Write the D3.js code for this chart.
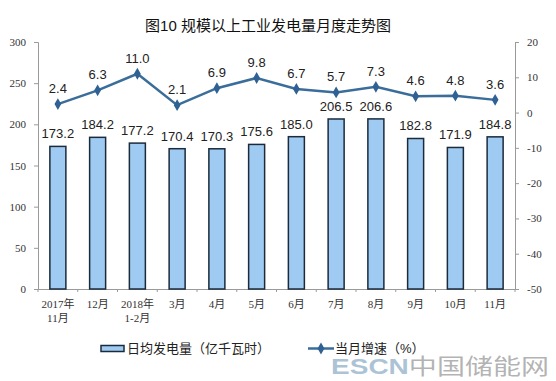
<!DOCTYPE html>
<html><head><meta charset="utf-8">
<script src="https://cdn.jsdelivr.net/npm/d3@7"></script>
<style>
body{margin:0;background:#fff;}
svg{display:block;}
</style></head>
<body>
<svg id="c" width="556" height="381"></svg>
<script>
const categories = [["2017年","11月"],["12月"],["2018年","1-2月"],["3月"],["4月"],["5月"],["6月"],["7月"],["8月"],["9月"],["10月"],["11月"]];
const dailyOutput = [173.2,184.2,177.2,170.4,170.3,175.6,185.0,206.5,206.6,182.8,171.9,184.8];
const growthRate = [2.4,6.3,11.0,2.1,6.9,9.8,6.7,5.7,7.3,4.6,4.8,3.6];
const leftTicks = [0,50,100,150,200,250,300];
const rightTicks = [-50,-40,-30,-20,-10,0,10,20];
const title = "图10 规模以上工业发电量月度走势图";
const legendBar = "日均发电量（亿千瓦时）";
const legendLine = "当月增速（%）";

const svg = d3.select("#c");
const L = 38, R = 515, T = 42, B = 289;
const keys = categories.map((d,i)=>i);
const x = d3.scaleBand().domain(keys).range([L,R]).paddingInner(0).paddingOuter(0);
const yL = d3.scaleLinear().domain([0,300]).range([B,T]);
const yR = d3.scaleLinear().domain([-50,20]).range([B,T]);
const serif = "'Liberation Serif','Noto Sans CJK SC',serif";
const sans = "Arial,'Liberation Sans','Noto Sans CJK SC',sans-serif";

svg.append("text").attr("x",268).attr("y",31).attr("text-anchor","middle")
  .attr("font-family",sans).attr("font-size",15).attr("fill","#111").text(title);

// left axis
const gL = svg.append("g").attr("transform",`translate(${L},0)`)
  .call(d3.axisLeft(yL).tickValues(leftTicks).tickSize(4).tickPadding(8).tickFormat(d=>String(d)));
gL.select(".domain").attr("stroke","#9a9a9a");
gL.selectAll(".tick line").attr("stroke","#9a9a9a");
gL.selectAll("text").attr("font-family",serif).attr("font-size",11).attr("fill","#333");

// right axis
const gR = svg.append("g").attr("transform",`translate(${R},0)`)
  .call(d3.axisRight(yR).tickValues(rightTicks).tickSize(4).tickPadding(8).tickFormat(d=>String(d)));
gR.select(".domain").attr("stroke","#9a9a9a");
gR.selectAll(".tick line").attr("stroke","#9a9a9a");
gR.selectAll("text").attr("font-family",serif).attr("font-size",11).attr("fill","#333");

// bottom axis
const gB = svg.append("g").attr("transform",`translate(0,${B})`)
  .call(d3.axisBottom(x).tickSize(0).tickFormat(""));
gB.select(".domain").attr("stroke","#9a9a9a");
keys.concat([keys.length]).forEach(i=>{
  const xx = i<keys.length ? x(i) : R;
  svg.append("line").attr("x1",xx).attr("x2",xx).attr("y1",B).attr("y2",B+3).attr("stroke","#9a9a9a");
});
categories.forEach((lines,i)=>{
  const t = svg.append("text").attr("text-anchor","middle").attr("font-family",serif)
    .attr("font-size",11).attr("fill","#333");
  lines.forEach((s,j)=>t.append("tspan").attr("x",x(i)+x.bandwidth()/2).attr("y",308+j*14).text(s));
});

// bars
const bw = 16;
svg.append("g").selectAll("rect").data(dailyOutput).join("rect")
  .attr("x",(d,i)=>x(i)+x.bandwidth()/2-bw/2).attr("width",bw)
  .attr("y",d=>yL(d)).attr("height",d=>B-yL(d))
  .attr("fill","#9fcbf2").attr("stroke","#1b2b3c").attr("stroke-width",1.5);
svg.append("g").selectAll("text").data(dailyOutput).join("text")
  .attr("x",(d,i)=>x(i)+x.bandwidth()/2).attr("y",d=>yL(d)-8)
  .attr("text-anchor","middle").attr("font-family",sans).attr("font-size",13).attr("fill","#222")
  .text(d=>d.toFixed(1));

// line
const cx = i=>x(i)+x.bandwidth()/2;
const line = d3.line().x((d,i)=>cx(i)).y(d=>yR(d));
svg.append("path").datum(growthRate).attr("d",line).attr("fill","none")
  .attr("stroke","#3a6d9a").attr("stroke-width",2.5);
const diamond = d3.symbol().type(d3.symbolDiamond).size(40);
svg.append("g").selectAll("path").data(growthRate).join("path")
  .attr("d",diamond).attr("transform",(d,i)=>`translate(${cx(i)},${yR(d)})`).attr("fill","#2f6194");
svg.append("g").selectAll("text").data(growthRate).join("text")
  .attr("x",(d,i)=>cx(i)).attr("y",d=>yR(d)-11)
  .attr("text-anchor","middle").attr("font-family",sans).attr("font-size",13).attr("fill","#222")
  .text(d=>d.toFixed(1));

// legend
svg.append("rect").attr("x",101).attr("y",345.5).attr("width",23).attr("height",6)
  .attr("fill","#9fcbf2").attr("stroke","#1b2b3c").attr("stroke-width",1.5);
svg.append("text").attr("x",127).attr("y",353).attr("font-family",sans).attr("font-size",13)
  .attr("fill","#222").text(legendBar);
svg.append("line").attr("x1",308).attr("x2",334).attr("y1",348.5).attr("y2",348.5)
  .attr("stroke","#3a6d9a").attr("stroke-width",2.5);
svg.append("path").attr("d",diamond).attr("transform","translate(321,348.5)").attr("fill","#2f6194");
svg.append("text").attr("x",335).attr("y",353).attr("font-family",sans).attr("font-size",13)
  .attr("fill","#222").text(legendLine);

// watermark
const wm = svg.append("text").attr("x",331).attr("y",374).attr("font-family",sans)
  .attr("font-size",22).attr("font-weight","bold").attr("fill-opacity",0.75)
  .attr("textLength",218).attr("lengthAdjust","spacingAndGlyphs");
wm.append("tspan").attr("fill","#8fb0c8").text("ESCN");
wm.append("tspan").attr("fill","#9a9a9a").attr("font-weight","normal").text("中国储能网");
</script>
</body></html>
